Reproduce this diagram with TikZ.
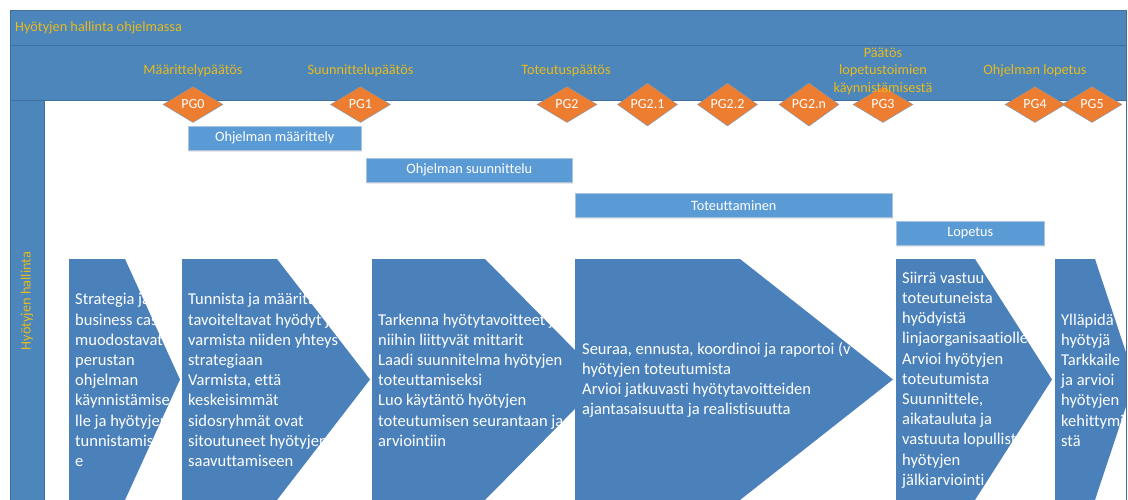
\documentclass[tikz,border=0pt]{standalone}
\usepackage{fontspec}
\setmainfont{Carlito}[Ligatures=NoCommon]
\usetikzlibrary{shapes.geometric,shadows}

\definecolor{bandblue}{RGB}{76,134,186}
\definecolor{edgeblue}{RGB}{62,111,158}
\definecolor{chevblue}{RGB}{75,129,186}
\definecolor{phaseblue}{RGB}{91,155,213}
\definecolor{phaseedge}{RGB}{170,196,224}
\definecolor{gateorange}{RGB}{237,125,49}
\definecolor{goldtext}{RGB}{232,186,30}

\tikzset{
  band/.style={fill=bandblue, draw=edgeblue, line width=0.6pt},
  gate/.style={diamond, fill=gateorange, draw=edgeblue!70, line width=0.4pt,
    minimum width=60pt, minimum height=36pt, inner sep=0pt, text=white,
    font=\fontsize{14}{16}\selectfont},
  gatelabel/.style={text=goldtext, align=center, inner sep=0pt,
    font=\fontsize{14.3}{17.5}\selectfont},
  phase/.style={fill=phaseblue, draw=phaseedge, line width=0.5pt, text=white,
    anchor=north west, inner sep=0pt, minimum height=24pt,
    font=\fontsize{14.3}{17}\selectfont,
    drop shadow={opacity=0.18, shadow xshift=0.8pt, shadow yshift=-1.4pt}},
  chev/.style={fill=chevblue},
  chevtext/.style={text=white, anchor=west, align=left, inner sep=0pt,
    font=\fontsize{16.5}{20.2}\selectfont},
}

\begin{document}
\begin{tikzpicture}[x=1pt,y=-1pt]
\useasboundingbox (0,0) rectangle (1128,500);
\fill[white] (0,0) rectangle (1128,500);

% header bands and lane bar
\draw[band] (10,10) rectangle (1126,45);
\draw[band] (10,45) rectangle (1126,100);
\draw[band] (10,100) rectangle (44,502);
\draw[edgeblue, line width=0.6pt] (1126,100) -- (1126,502);

\node[text=goldtext, anchor=west, inner sep=0pt, font=\fontsize{14.3}{17}\selectfont]
  (title) at (15,28) {Hyötyjen hallinta ohjelmassa};
\node[text=goldtext, rotate=90, inner sep=0pt, font=\fontsize{14.3}{17}\selectfont]
  (lane) at (27,301) {Hyötyjen hallinta};

% phase bars
\node[phase, minimum width=173pt] (p1) at (188,126) {Ohjelman määrittely};
\node[phase, minimum width=206pt] (p2) at (366,158) {Ohjelman suunnittelu};
\node[phase, minimum width=317pt] (p3) at (575,193) {Toteuttaminen};
\node[phase, minimum width=148pt] (p4) at (896,221) {Lopetus};

% gates
\node[gate] (pg0) at (193,104.5) {PG0};
\node[gate] (pg1) at (360.5,104.5) {PG1};
\node[gate] (pg2) at (567,104.5) {PG2};
\node[gate] (pg21) at (647.5,104.5) {PG2.1};
\node[gate] (pg22) at (727.5,104.5) {PG2.2};
\node[gate] (pg2n) at (809,104.5) {PG2.n};
\node[gate] (pg3) at (883,104.5) {PG3};
\node[gate] (pg4) at (1035,104.5) {PG4};
\node[gate] (pg5) at (1092,104.5) {PG5};

% gate decisions
\node[gatelabel] (d0) at (193,71) {Määrittelypäätös};
\node[gatelabel] (d1) at (360.5,71) {Suunnittelupäätös};
\node[gatelabel] (d2) at (566,71) {Toteutuspäätös};
\node[gatelabel] (d3) at (883,71) {Päätös\\lopetustoimien\\käynnistämisestä};
\node[gatelabel] (d4) at (1035,71) {Ohjelman lopetus};

% process chevrons, each with its text clipped to the shape
\begin{scope}
\clip (44,100) rectangle (1126,502);

\fill[chev] (69,259) -- (125,259) -- (180,379.5) -- (125,500) -- (69,500) -- cycle;
\begin{scope}
\clip (69,259) -- (125,259) -- (180,379.5) -- (125,500) -- (69,500) -- cycle;
\node[chevtext] (c1) at (75,380) {Strategia ja\\business case\\muodostavat\\perustan\\ohjelman\\käynnistämise\\lle ja hyötyjen\\tunnistamis\\e};
\end{scope}

\fill[chev] (182,259) -- (277,259) -- (370,379.5) -- (277,500) -- (182,500) -- cycle;
\begin{scope}
\clip (182,259) -- (277,259) -- (370,379.5) -- (277,500) -- (182,500) -- cycle;
\node[chevtext] (c2) at (188,380) {Tunnista ja määrittele\\tavoiteltavat hyödyt ja\\varmista niiden yhteys\\strategiaan\\Varmista, että\\keskeisimmät\\sidosryhmät ovat\\sitoutuneet hyötyjen\\saavuttamiseen};
\end{scope}

\fill[chev] (372,259) -- (485,259) -- (604,379.5) -- (485,500) -- (372,500) -- cycle;
\begin{scope}
\clip (372,259) -- (485,259) -- (604,379.5) -- (485,500) -- (372,500) -- cycle;
\node[chevtext] (c3) at (378,380) {Tarkenna hyötytavoitteet ja\\niihin liittyvät mittarit\\Laadi suunnitelma hyötyjen\\toteuttamiseksi\\Luo käytäntö hyötyjen\\toteutumisen seurantaan ja\\arviointiin};
\end{scope}

\fill[chev] (575,259) -- (740,259) -- (893,379.5) -- (740,500) -- (575,500) -- cycle;
\begin{scope}
\clip (575,259) -- (740,259) -- (893,379.5) -- (740,500) -- (575,500) -- cycle;
\node[chevtext] (c4) at (582,380) {Seuraa, ennusta, koordinoi ja raportoi (v\\hyötyjen toteutumista\\Arvioi jatkuvasti hyötytavoitteiden\\ajantasaisuutta ja realistisuutta};
\end{scope}

\fill[chev] (896,259) -- (975,259) -- (1052,379.5) -- (975,500) -- (896,500) -- cycle;
\begin{scope}
\clip (896,259) -- (975,259) -- (1052,379.5) -- (975,500) -- (896,500) -- cycle;
\node[chevtext] (c5) at (902,380) {Siirrä vastuu\\toteutuneista\\hyödyistä\\linjaorganisaatiolle\\Arvioi hyötyjen\\toteutumista\\Suunnittele,\\aikatauluta ja\\vastuuta lopullisten\\hyötyjen\\jälkiarviointi};
\end{scope}

\fill[chev] (1055,259) -- (1095,259) -- (1135,379.5) -- (1095,500) -- (1055,500) -- cycle;
\begin{scope}
\clip (1055,259) -- (1095,259) -- (1135,379.5) -- (1095,500) -- (1055,500) -- cycle;
\node[chevtext] (c6) at (1061,380) {Ylläpidä\\hyötyjä\\Tarkkaile\\ja arvioi\\hyötyjen\\kehittymi\\stä};
\end{scope}
\end{scope}
\draw[edgeblue, line width=0.6pt] (1126,100) -- (1126,502);
\end{tikzpicture}
\end{document}
